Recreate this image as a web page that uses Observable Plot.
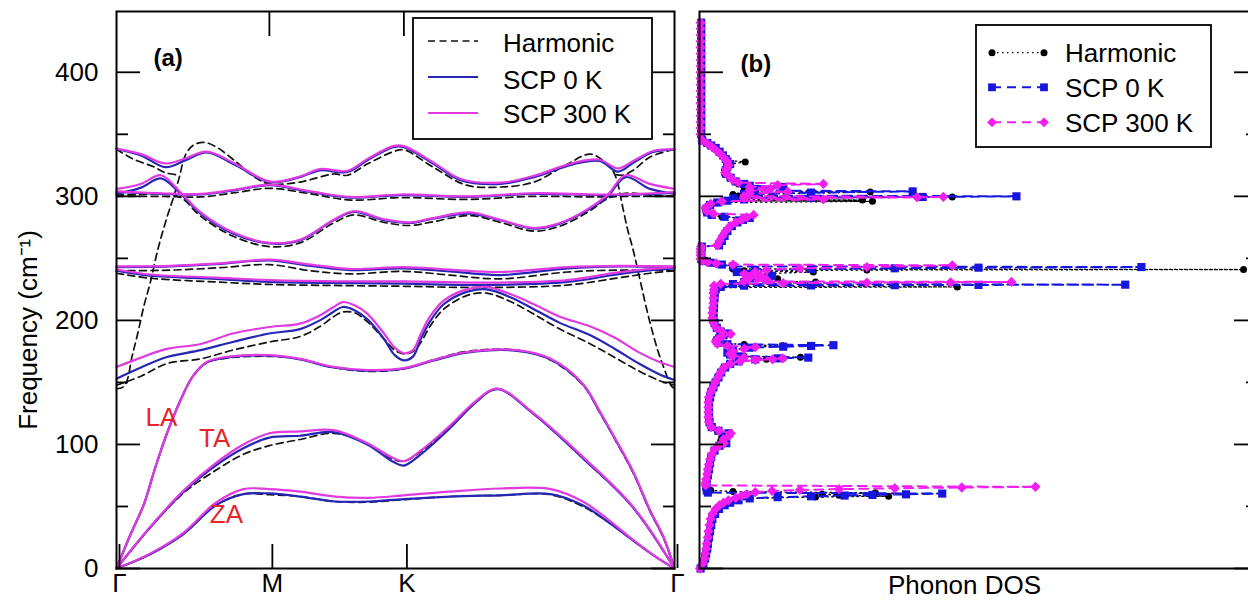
<!DOCTYPE html>
<html><head><meta charset="utf-8">
<script src="https://cdn.jsdelivr.net/npm/d3@7"></script>
<script src="https://cdn.jsdelivr.net/npm/@observablehq/plot@0.6"></script>
<style>
html,body{margin:0;padding:0;background:#fff;overflow:hidden;}
#wrap{position:relative;width:1248px;height:605px;overflow:hidden;font-family:"Liberation Sans",Arial,sans-serif;}
#wrap svg{position:absolute;top:0;}
</style></head><body><div id="wrap"></div>
<script>
// ---------- labels / ticks ----------
const pathTicks = [0, 1, 1.88, 3.65];
const pathLabels = ["Γ", "M", "K", "Γ"];
const freqMajor = [0, 100, 200, 300, 400];
const freqMinor = [50, 150, 250, 350];
const seriesNames = ["Harmonic", "SCP 0 K", "SCP 300 K"];
const branchNames = ["LA", "TA", "ZA"];
const branchK = [0.19, 0.54, 0.61];
const branchF = [115, 98, 37];

// ---------- dispersion (k along Γ-M-K-Γ, frequency cm^-1) ----------
const kZA = [0,0.22,0.44,0.65,0.83,1.00,1.20,1.43,1.65,1.88,2.18,2.51,2.84,3.05,3.21,3.38,3.52,3.65];
const ZA_h   = [0,11.5,28,51,60,59.5,58,54,53.5,55.5,58,59,59.5,50,38,22.5,10,0];
const ZA_0   = [0,11.5,28,51,60,60.5,58,54,54,56,58,59,60,51,38,22.5,10,0];
const ZA_300 = [0,12,29,53,64,64,62,58,57,59,62,64.5,64,54,40,23,10,0];

const kTA = [0,0.22,0.44,0.66,0.83,1.00,1.20,1.42,1.64,1.81,1.88,1.99,2.18,2.35,2.49,2.73,3.05,3.38,3.65];
const TA_h   = [0,33,61,80,92,99,104,109,101,88,86.5,94,114,134,145,124.5,89,49,0];
const TA_0   = [0,33,62,84,97,105.5,107,110,100,86,83,92,113,134,144.5,124.5,89,49,0];
const TA_300 = [0,33.5,63,86,100,109,110.5,111.5,101,89,86.5,95,115,135,145,125,90,49.6,0];

const kLA = [0,0.09,0.18,0.25,0.33,0.42,0.50,0.59,0.75,1.00,1.20,1.42,1.64,1.88,2.07,2.29,2.62,2.84,3.05,3.16,3.27,3.38,3.49,3.58,3.65];
const LA_h   = [0,27,52,80,109,136,155,166,170,171,169,162,159,161,168,175,176,168,148,126,102,77,46,24,0];
const LA_0   = [0,27,52,80,109,136,155,166,170.5,171.5,168.5,162,159.5,161,167.5,174,175.5,168.5,148.5,126.5,102.5,77.5,46.5,24.5,0];
const LA_300 = [0,27,52,80,109,136,155,166.5,171,172,169,162.5,160,161.5,168,174.5,176,169,149,127,103,78,47,25,0];

const k4 = [0,0.16,0.33,0.55,0.76,1.00,1.20,1.33,1.42,1.48,1.56,1.64,1.75,1.82,1.88,1.94,1.99,2.05,2.14,2.29,2.42,2.58,2.73,2.90,3.10,3.26,3.42,3.56,3.65];
const B4_h   = [147.7,155,165.2,169,176,182.6,187,195,203,206.8,206,199,185,176,173,175,182,195,209,220,222,215,205,193,181,170,159,151,147.7];
const B4_0   = [153,162,170.5,176,182.6,189.4,193,200,207,210.8,208,201,185,172,167.8,171,185,199,213,223,225,218.5,209,198,188,177,165,156,152];
const B4_300 = [162.4,170,177,181,189.4,194.7,197.4,204,210.8,214.8,212,205.5,189.4,178,173.5,176,189,203,216,225,227,221,213,203,195,186,174,166,162.4];

const k5 = [0,0.22,0.65,1.00,1.53,1.88,2.40,2.95,3.27,3.49,3.65];
const B5_h   = [238,234,231,229,228,227.5,226.5,228.5,234,238,240];
const B5_0   = [240,236,233.5,231,230,229.6,228.5,231,237,240.5,242];
const B5_300 = [241,237,234.5,232.5,231.5,231.5,230.5,232.5,238.5,241.5,243];

const k6 = [0,0.35,0.68,1.00,1.27,1.53,1.88,2.18,2.51,2.95,3.29,3.65];
const B6_h   = [240,240.5,242.5,245,240,237.5,239.5,236.5,233.5,239,240.5,240];
const B6_0   = [243,243.5,245.5,248.4,244,240.5,242,239.5,236.5,242,243.5,243];
const B6_300 = [243.5,244,246,249,245,241.5,243,241,239,243,244,243.5];

const k7 = [0,0.16,0.29,0.42,0.55,0.76,1.00,1.20,1.42,1.55,1.75,1.92,2.07,2.31,2.51,2.73,2.90,3.08,3.21,3.33,3.49,3.65];
const B7_h   = [301,301.5,302,299,284,268,259.5,262.5,278.5,285,279,276.5,279.5,284.5,279,272,276,287,298,302.5,301,300];
const B7_0   = [302,307,314.5,302,286,270,262,264.5,280.7,287.4,280.7,278.5,282,286,280.7,274,278,288.7,299.5,315.5,306,302];
const B7_300 = [306,310,317,303,287,271,262.5,265,281,288,281.5,279,282.5,287,281,274.5,278.5,289.5,301,317,310,306];

const k8 = [0,0.29,0.55,0.78,1.00,1.27,1.53,1.86,2.29,2.73,3.16,3.42,3.65];
const B8_h   = [300,300,299.5,303,306.5,302,297,299,297.5,300,299.5,300,300];
const B8_0   = [303.5,302,301.5,305,309,303.5,299,301,299.5,302,301,301.5,303];
const B8_300 = [304,302.5,302,305.5,309.5,304,299.5,301.5,300,302.5,301.5,302,303.5];

const k9 = [0,0.16,0.32,0.45,0.59,0.78,1.00,1.20,1.33,1.51,1.64,1.81,1.88,2.07,2.25,2.51,2.73,2.99,3.16,3.28,3.38,3.51,3.65];
const B9_0   = [338,333,323.5,329,335.5,325,311.5,315.5,321,319.6,329,339.7,339.7,326.4,313,310,315.5,326,328.5,320,327,335.7,337.6];
const B9_300 = [338.5,334,326.5,330.5,336,326,312,316,322,320.5,330,340.5,340.5,327.5,314,311,316.5,327,329.5,322.5,328.5,336.5,338];

// harmonic upper branches (soft mode + top band pieces)
const kH9a = [0,0.11,0.24,0.32,0.39];
const H9a  = [338,330,324,319,317.5];
const kH9b = [3.27,3.31,3.38,3.49,3.65];
const H9b  = [317.5,317,321,331.7,338];
const kSoft = [0,0.04,0.07,0.10,0.14,0.18,0.22,0.27,0.33,0.37,0.41,0.45,0.50,0.57,0.65,0.78,0.91,1.00,1.20,1.42,1.51,1.64,1.81,1.88,2.07,2.29,2.51,2.73,2.95,3.10,3.21,3.25,3.28,3.30,3.34,3.38,3.42,3.48,3.54,3.58,3.61,3.63,3.65];
const Soft_h = [145,146,152,170,190,212,230,257,283,298,315,333,341,343.5,340,328,315,310,311.5,318,317,326,336,337.5,323.6,309,307.5,311.5,326,334,326,320,310,298,275,256.5,235,203,176,162,152,147,145];

// ---------- phonon DOS: [frequency, DOS (arb. units)] ----------
const dosHarmonic = [[0,0.1],[4,0.6],[8,0.9],[12,1.1],[16,1.2],[20,1.3],[25,1.5],[30,1.7],[35,1.9],[40,2.1],[44,2.5],[48,3.1],[51,4.0],[53,5.0],[55,6.1],[56.5,9],[57.7,20.8],[58.3,33.9],[59,25],[59.8,22],[61,31.5],[62,6],[63,2.0],[65,1.3],[68,1.2],[72,1.3],[76,1.5],[80,1.6],[84,1.8],[88,2.0],[92,2.3],[96,2.8],[99,3.4],[101,4.6],[103,3.8],[106,4.0],[109,5.0],[111,3.2],[114,2.0],[118,1.7],[122,1.6],[126,1.6],[130,1.6],[134,1.6],[138,1.8],[142,2.0],[146,2.3],[150,2.7],[154,3.2],[158,3.7],[162,4.3],[165,5.3],[167,7.3],[168.6,12],[169.4,15],[170.2,18.1],[171,8],[172.5,6],[174,5],[176,5.5],[178,8],[179.5,14.9],[180.5,8],[182,3.5],[184,2.9],[186,3.3],[188,4.0],[189.5,4.7],[191,3.6],[194,3.0],[198,2.6],[202,2.3],[206,2.3],[210,2.4],[214,2.5],[218,2.5],[222,2.5],[225,2.7],[226.5,3.5],[227,46.2],[227.5,4],[229,6],[231,20.8],[232,8],[233.5,14.0],[234.5,11.5],[236,9],[237.5,10],[239,20.4],[240,8],[240.6,30],[241,97.5],[241.5,6],[242.5,6],[244,6.1],[245.5,3],[247,1.2],[248.5,0.4],[250,0.2],[252.5,0.2],[255,0.2],[257.5,0.2],[259.5,0.3],[260.5,3.2],[264,3.7],[268,4.2],[272,4.8],[276,5.6],[279,6.6],[281,7.5],[282.3,8.2],[283.5,4],[285,2],[287,1.2],[290,1.0],[293,1.7],[295,3],[296,31.0],[296.5,5],[297,29.2],[297.6,8],[298.5,6.5],[299.5,45.3],[300.3,7],[301.5,6],[303.5,30.6],[304.5,8],[306,9],[308,8],[310,7],[312,6.2],[315,5.4],[318,4.5],[321,4.5],[324,4.8],[326,5.3],[327.7,8.2],[329,5],[332,4.3],[335,3.5],[338,2.8],[341,2.0],[343,1.3],[345,0.5],[350,0.2],[355,0.2],[360,0.2],[365,0.2],[370,0.2],[375,0.2],[380,0.2],[385,0.2],[390,0.2],[395,0.2],[400,0.2],[405,0.2],[410,0.2],[415,0.2],[420,0.2],[425,0.2],[430,0.2],[435,0.2],[440,0.2]];

const dosScp0 = [[0,0.2],[4,0.7],[8,1.0],[12,1.2],[16,1.4],[20,1.5],[25,1.7],[30,1.9],[35,2.1],[40,2.3],[44,2.8],[48,3.5],[51,4.5],[53,5.5],[55,7],[56.5,9],[57.5,14],[58.2,20],[58.8,26],[59.3,31],[59.8,37],[60.4,43.5],[61.2,1.5],[63,1.3],[66,1.2],[70,1.3],[75,1.5],[80,1.7],[85,1.9],[90,2.1],[95,2.7],[99,3.6],[101,4.8],[104,4.3],[107,4.6],[109,5.2],[111,3.4],[114,2.2],[118,1.8],[122,1.7],[126,1.7],[130,1.7],[134,1.7],[138,1.9],[142,2.1],[146,2.5],[150,2.9],[154,3.4],[158,3.9],[162,4.6],[165,5.5],[167,7],[168.6,10],[169.4,14],[170,19.5],[171,7],[172.5,5.5],[174,5],[176,6],[178,9],[178.8,15],[179.4,20],[180,24.0],[180.8,5],[182,3.4],[184,3.2],[186,3.6],[188,4.3],[189.5,5.0],[191,3.8],[194,3.1],[198,2.7],[202,2.5],[206,2.5],[210,2.6],[214,2.6],[218,2.7],[222,2.7],[225,2.9],[227,3.8],[228,8],[228.2,20],[228.4,35],[228.6,50],[228.8,76.3],[229.3,6],[231,8],[232.5,12],[234,10],[236,13],[237.5,9],[239,6.7],[240.5,10],[241.5,20],[242,35],[242.5,50],[243,79.2],[243.5,6],[245,4],[246.5,2],[248,0.6],[249.5,0.3],[252.5,0.3],[255,0.3],[257.5,0.3],[259.5,0.4],[260.5,3.5],[264,4.0],[268,4.5],[272,5.0],[276,5.8],[279,6.8],[281,7.8],[282.5,9],[283.5,4.5],[285,2.2],[287,1.4],[290,1.2],[293,1.9],[295,3.2],[296.5,5],[297.5,8],[298.4,6.1],[299,20],[299.5,40],[300,56.8],[300.7,8],[302,8],[303,20],[304,38.2],[304.8,9],[306,10],[307.5,15],[308.5,9],[310,8],[312,6.5],[315,5.6],[318,4.8],[321,4.7],[324,5.0],[326,5.5],[328,5.0],[330,4.7],[333,4.2],[336,3.6],[339,2.9],[341,2.1],[343,1.4],[345,0.5],[350,0.3],[355,0.3],[360,0.3],[365,0.3],[370,0.3],[375,0.3],[380,0.3],[385,0.3],[390,0.3],[395,0.3],[400,0.3],[405,0.3],[410,0.3],[415,0.3],[420,0.3],[425,0.3],[430,0.3],[435,0.3],[440,0.3]];

const dosScp300 = [[0,0.1],[4,0.6],[8,0.9],[12,1.0],[16,1.2],[20,1.3],[25,1.5],[30,1.6],[35,1.8],[40,2.0],[44,2.3],[48,2.9],[51,3.6],[53,4.3],[55,5.2],[57,6.5],[58.5,7.5],[60,8.5],[61.5,10],[62.5,13],[63.3,18],[64,25],[64.7,35],[65.3,47],[65.8,60.2],[67,1.1],[69,1.1],[72,1.2],[76,1.4],[80,1.5],[84,1.7],[88,1.9],[92,2.2],[96,2.7],[99,3.5],[101,4.4],[104,4.3],[107,5.3],[109,5.6],[111,3.5],[114,2.1],[118,1.7],[122,1.6],[126,1.6],[130,1.6],[134,1.6],[138,1.7],[142,2.0],[146,2.4],[150,2.8],[154,3.3],[158,3.8],[162,4.4],[165,5.5],[167,7.3],[168,10],[168.6,13.1],[169.4,14.9],[170.2,8],[171.5,6],[173,5.5],[175,6],[177,8],[178.5,10],[179.5,5],[181,3.2],[183,2.9],[185,3.3],[187,4.0],[189,5.6],[191,4.0],[194,3.0],[198,2.5],[202,2.3],[206,2.3],[210,2.4],[214,2.5],[218,2.5],[222,2.5],[225,2.6],[228,2.6],[229.5,3.8],[230,15],[230.4,30],[230.7,45],[231,55.9],[231.5,8],[233,12],[234.5,9],[236,11],[237.5,8],[239,10],[240.5,12],[242,18],[243,30],[244.4,45.3],[245,6],[246,3],[247,1.5],[248,0.6],[249.5,0.2],[252.5,0.2],[255,0.2],[257.5,0.2],[259.5,0.3],[260.5,3.2],[264,3.6],[268,4.1],[272,4.7],[276,5.5],[279,6.5],[281,7.5],[283,8.5],[285,9.7],[286,2.5],[288,1.3],[291,1.1],[294,2.0],[296,4],[297.6,22.2],[298.5,8],[299.2,39],[299.5,43.7],[300.2,8],[302,9],[303.7,15.8],[305,9],[306,12.7],[307.5,9],[309,14.0],[310,22.2],[311,7],[313,6],[316,5.4],[319,4.6],[322,4.8],[325,5.2],[328,5.0],[331,4.4],[334,3.8],[337,3.0],[340,2.2],[342.5,1.4],[345,0.5],[350,0.2],[355,0.2],[360,0.2],[365,0.2],[370,0.2],[375,0.2],[380,0.2],[385,0.2],[390,0.2],[395,0.2],[400,0.2],[405,0.2],[410,0.2],[415,0.2],[420,0.2],[425,0.2],[430,0.2],[435,0.2],[440,0.2]];

// ---------- build ----------
const FONT = "Liberation Sans, Arial, sans-serif";
const BLUE_A = "#2626b4", MAG_A = "#e03ae0";
const BLUE_B = "#1616de", MAG_B = "#f21ef0";

const bands = [
  ["ZA", kZA, ZA_h, ZA_0, ZA_300],
  ["TA", kTA, TA_h, TA_0, TA_300],
  ["LA", kLA, LA_h, LA_0, LA_300],
  ["B4", k4, B4_h, B4_0, B4_300],
  ["B5", k5, B5_h, B5_0, B5_300],
  ["B6", k6, B6_h, B6_0, B6_300],
  ["B7", k7, B7_h, B7_0, B7_300],
  ["B8", k8, B8_h, B8_0, B8_300],
  ["B9", k9, null, B9_0, B9_300]
];
const rowsH = [], rows0 = [], rows300 = [];
for (const [name, k, h, s0, s300] of bands) {
  k.forEach((x, i) => {
    if (h) rowsH.push({k: x, f: h[i], band: name});
    rows0.push({k: x, f: s0[i], band: name});
    rows300.push({k: x, f: s300[i], band: name});
  });
}
kH9a.forEach((x, i) => rowsH.push({k: x, f: H9a[i], band: "H9a"}));
kH9b.forEach((x, i) => rowsH.push({k: x, f: H9b[i], band: "H9b"}));
kSoft.forEach((x, i) => rowsH.push({k: x, f: Soft_h[i], band: "soft"}));

const tickStyle = {strokeWidth: 1.8, label: null};

const plotA = Plot.plot({
  width: 690, height: 605,
  marginLeft: 116, marginRight: 16, marginTop: 11, marginBottom: 37,
  x: {domain: [0, 3.65]},
  y: {domain: [0, 449]},
  style: {fontFamily: FONT, fontSize: "26px", background: "transparent", color: "black"},
  marks: [
    Plot.line(rowsH, {x: "k", y: "f", z: "band", stroke: "#111", strokeWidth: 1.7, strokeDasharray: "7,4.5", curve: "catmull-rom"}),
    Plot.line(rows0, {x: "k", y: "f", z: "band", stroke: BLUE_A, strokeWidth: 2.2, curve: "catmull-rom"}),
    Plot.line(rows300, {x: "k", y: "f", z: "band", stroke: MAG_A, strokeWidth: 2.2, curve: "catmull-rom"}),
    Plot.text(branchNames, {x: (d, i) => branchK[i], y: (d, i) => branchF[i], fill: "#e3262b", textAnchor: "start", lineAnchor: "bottom", fontSize: 26}),
    Plot.frame({stroke: "black", strokeWidth: 2}),
    Plot.axisY(freqMajor, {anchor: "left", tickSize: -24, tickPadding: 42, fontSize: 26, ...tickStyle}),
    Plot.axisY(freqMinor, {anchor: "left", tickSize: -12, tickFormat: () => "", ...tickStyle}),
    Plot.axisY(freqMajor, {anchor: "right", tickSize: -24, tickFormat: () => "", ...tickStyle}),
    Plot.axisY(freqMinor, {anchor: "right", tickSize: -12, tickFormat: () => "", ...tickStyle}),
    Plot.axisX(pathTicks, {anchor: "bottom", tickSize: -24, tickPadding: 29, fontSize: 26, dx: 3, tickFormat: d => pathLabels[pathTicks.indexOf(d)], ...tickStyle}),
    Plot.axisX(pathTicks.slice(1, 3), {anchor: "top", tickSize: -24, tickFormat: () => "", ...tickStyle}),
    Plot.text(["Frequency (cm⁻¹)"], {frameAnchor: "left", rotate: -90, textAnchor: "middle", dx: -88, dy: 40, fontSize: 26}),
    Plot.text(["(a)"], {frameAnchor: "top-left", dx: 37, dy: 54, lineAnchor: "bottom", textAnchor: "start", fontWeight: "bold", fontSize: 24})
  ]
});
plotA.style.left = "0px";
document.getElementById("wrap").appendChild(plotA);

const fx = d => d[1], fy = d => d[0];
const plotB = Plot.plot({
  width: 580, height: 605,
  marginLeft: 9, marginRight: 13, marginTop: 11, marginBottom: 37,
  x: {domain: [0, 100], axis: null},
  y: {domain: [0, 449]},
  style: {fontFamily: FONT, fontSize: "26px", background: "transparent", color: "black"},
  marks: [
    Plot.line(dosHarmonic, {x: fx, y: fy, stroke: "#000", strokeWidth: 1.3, strokeDasharray: "1.5,3.5"}),
    Plot.dot(dosHarmonic, {x: fx, y: fy, r: 3.5, fill: "#000"}),
    Plot.line(dosScp0, {x: fx, y: fy, stroke: BLUE_B, strokeWidth: 2, strokeDasharray: "9,6"}),
    Plot.dot(dosScp0, {x: fx, y: fy, symbol: "square", r: 4.6, fill: BLUE_B}),
    Plot.line(dosScp300, {x: fx, y: fy, stroke: MAG_B, strokeWidth: 2, strokeDasharray: "9,6"}),
    Plot.dot(dosScp300, {x: fx, y: fy, symbol: "square", rotate: 45, r: 4.1, fill: MAG_B}),
    Plot.frame({stroke: "black", strokeWidth: 2}),
    Plot.axisY(freqMajor, {anchor: "left", tickSize: -24, tickFormat: () => "", ...tickStyle}),
    Plot.axisY(freqMinor, {anchor: "left", tickSize: -12, tickFormat: () => "", ...tickStyle}),
    Plot.axisY(freqMajor, {anchor: "right", tickSize: -24, tickFormat: () => "", ...tickStyle}),
    Plot.axisY(freqMinor, {anchor: "right", tickSize: -12, tickFormat: () => "", ...tickStyle}),
    Plot.text(["Phonon DOS"], {frameAnchor: "bottom", dx: -14, dy: 7, lineAnchor: "top", fontSize: 26}),
    Plot.text(["(b)"], {frameAnchor: "top-left", dx: 41, dy: 60, lineAnchor: "bottom", textAnchor: "start", fontWeight: "bold", fontSize: 24})
  ]
});
plotB.style.left = "690px";
document.getElementById("wrap").appendChild(plotB);

// ---------- legends (overlay) ----------
const ov = d3.select("#wrap").append("svg").attr("width", 1248).attr("height", 605)
  .style("left", "0px").style("position", "absolute").style("top", "0px")
  .style("font-family", FONT).style("font-size", "26px");

// legend (a)
ov.append("rect").attr("x", 413).attr("y", 18).attr("width", 239).attr("height", 121)
  .attr("fill", "white").attr("stroke", "black").attr("stroke-width", 1.8);
const legA = [
  {y: 41, ty: 52, stroke: "#111", dash: "7,4.5", w: 1.7},
  {y: 77, ty: 88.5, stroke: BLUE_A, dash: null, w: 2.2},
  {y: 113, ty: 122.5, stroke: MAG_A, dash: null, w: 2.2}
];
legA.forEach((r, i) => {
  ov.append("line").attr("x1", 428).attr("x2", 478).attr("y1", r.y).attr("y2", r.y)
    .attr("stroke", r.stroke).attr("stroke-width", r.w).attr("stroke-dasharray", r.dash);
  ov.append("text").attr("x", 503).attr("y", r.ty).text(seriesNames[i]);
});

// legend (b)
ov.append("rect").attr("x", 976).attr("y", 25).attr("width", 235).attr("height", 122)
  .attr("fill", "white").attr("stroke", "black").attr("stroke-width", 1.8);
const legB = [
  {y: 52.7, ty: 61.5, stroke: "#000", dash: "1.5,3.5", w: 1.3, sym: d3.symbolCircle, size: Math.PI * 3.5 * 3.5, rot: 0},
  {y: 87.3, ty: 97, stroke: BLUE_B, dash: "9,6", w: 2, sym: d3.symbolSquare, size: Math.PI * 4.4 * 4.4, rot: 0},
  {y: 122.3, ty: 132, stroke: MAG_B, dash: "9,6", w: 2, sym: d3.symbolSquare, size: Math.PI * 3.9 * 3.9, rot: 45}
];
legB.forEach((r, i) => {
  ov.append("line").attr("x1", 992).attr("x2", 1044).attr("y1", r.y).attr("y2", r.y)
    .attr("stroke", r.stroke).attr("stroke-width", r.w).attr("stroke-dasharray", r.dash);
  [992, 1044].forEach(x => {
    ov.append("path").attr("d", d3.symbol(r.sym, r.size)())
      .attr("transform", `translate(${x},${r.y}) rotate(${r.rot})`).attr("fill", r.stroke);
  });
  ov.append("text").attr("x", 1065).attr("y", r.ty).text(seriesNames[i]);
});
</script></body></html>
